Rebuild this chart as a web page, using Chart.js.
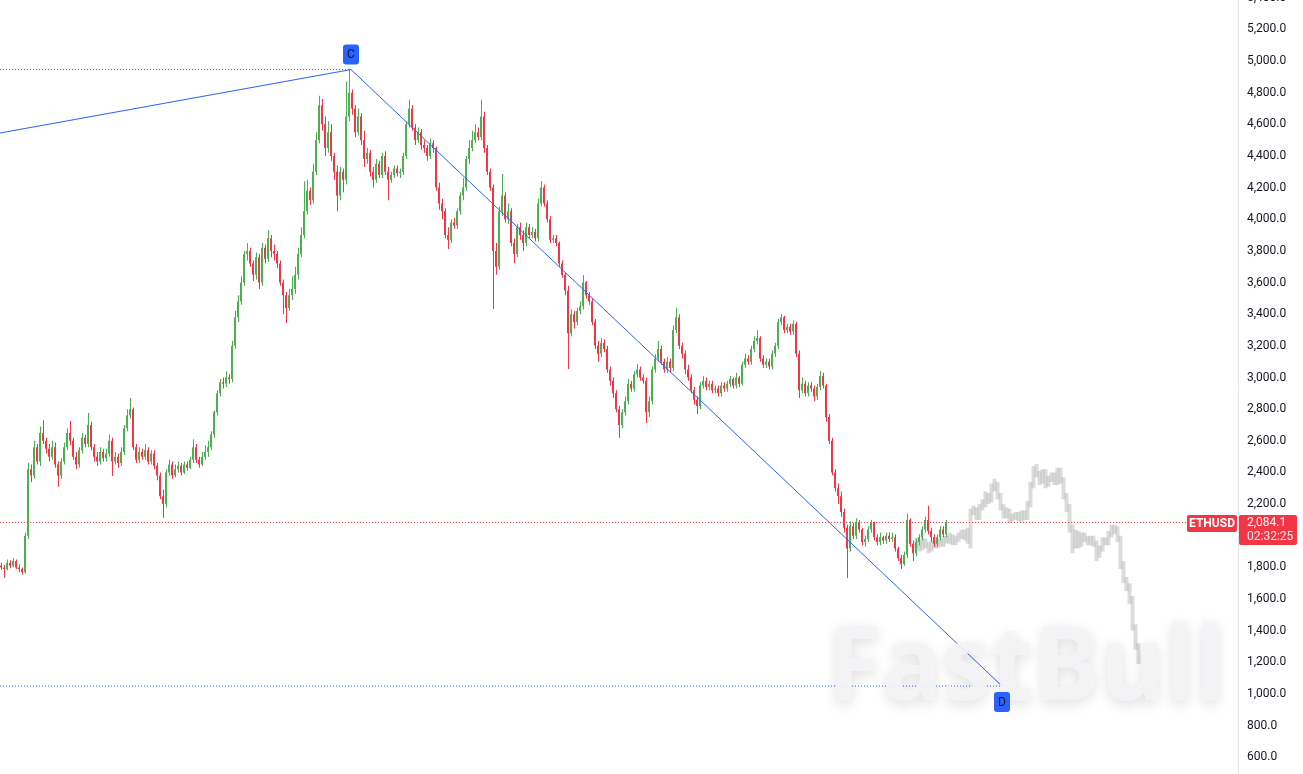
<!DOCTYPE html>
<html><head><meta charset="utf-8">
<script src="https://cdn.jsdelivr.net/npm/chart.js@4.4.1/dist/chart.umd.min.js"></script>
<style>html,body{margin:0;padding:0;background:#fff;overflow:hidden}#wrap{width:1303px;height:774px;position:relative}</style>
</head><body><div id="wrap"><canvas id="c"></canvas></div>
<script>
// ETHUSD candles (one per step)
const opens=[
1810,1800,1790,1830,1810,1840,1800,1790,
1770,2000,2420,2380,2560,2470,2650,2600,
2550,2500,2560,2450,2380,2470,2560,2650,
2600,2500,2450,2540,2620,2580,2700,2560,
2500,2470,2530,2490,2520,2600,2470,2500,
2460,2530,2680,2760,2800,2560,2480,2530,
2500,2540,2470,2520,2440,2380,2250,2200,
2400,2450,2380,2420,2440,2400,2450,2430,
2480,2560,2480,2450,2500,2530,2560,2640,
2780,2900,2970,2960,3000,2990,3200,3380,
3480,3600,3780,3800,3720,3650,3760,3600,
3820,3750,3880,3800,3780,3720,3600,3520,
3440,3520,3560,3650,3780,3900,4050,4180,
4120,4300,4500,4720,4600,4450,4550,4400,
4300,4150,4300,4250,4650,4800,4700,4550,
4650,4500,4380,4420,4300,4250,4350,4280,
4400,4300,4250,4280,4320,4290,4300,4400,
4600,4700,4580,4500,4550,4470,4450,4400,
4480,4450,4200,4100,4050,3900,3870,3980,
3960,4050,4150,4200,4380,4450,4500,4550,
4520,4650,4450,4300,4200,3800,3700,4050,
4150,4000,4050,3850,3780,3950,3900,3850,
3950,3900,3920,3880,4100,4200,4100,4000,
3870,3880,3850,3720,3650,3550,3280,3400,
3350,3420,3450,3600,3520,3480,3350,3200,
3150,3220,3180,3050,2980,2900,2800,2700,
2780,2850,2960,2930,3020,3050,3000,2980,
2780,2850,3050,3120,3180,3100,3050,3100,
3060,3300,3380,3200,3150,3050,3000,2920,
2860,2820,2950,2980,2940,2960,2920,2930,
2900,2950,2930,2960,2990,2950,3000,2960,
3080,3120,3100,3180,3230,3250,3120,3080,
3100,3070,3150,3200,3350,3380,3300,3320,
3290,3340,3150,2920,2960,2900,2950,2930,
2880,2940,3010,2950,2750,2600,2400,2300,
2250,2150,2050,1920,2060,2000,2080,2040,
1960,1980,2040,2080,1990,1960,1990,1970,
2000,1980,1990,1920,1860,1820,1880,2100,
1950,1890,1960,1990,2040,2100,2030,1990,
1950,1990,2040,2010];
const highs=[
1830,1815,1850,1845,1860,1850,1820,1800,
2020,2460,2450,2600,2580,2690,2730,2620,
2580,2600,2590,2470,2490,2590,2680,2725,
2620,2530,2560,2650,2640,2776,2720,2580,
2530,2560,2550,2550,2640,2620,2530,2520,
2560,2700,2800,2870,2810,2580,2560,2550,
2580,2560,2540,2540,2460,2400,2290,2420,
2480,2470,2450,2470,2460,2470,2470,2500,
2610,2580,2500,2530,2570,2600,2660,2790,
2920,2990,3000,3040,3020,3230,3420,3520,
3640,3800,3850,3820,3740,3790,3780,3850,
3840,3930,3900,3840,3800,3740,3620,3540,
3560,3640,3700,3820,3950,4240,4250,4200,
4350,4550,4780,4760,4650,4620,4600,4420,
4340,4330,4320,4870,4946,4820,4720,4700,
4670,4560,4450,4440,4330,4380,4370,4420,
4430,4330,4300,4340,4340,4320,4420,4620,
4755,4720,4600,4580,4570,4500,4470,4510,
4500,4460,4230,4130,4070,3950,4000,4010,
4070,4170,4260,4400,4500,4560,4600,4580,
4755,4680,4470,4320,4220,3850,4080,4286,
4170,4100,4070,3880,3970,3980,3930,3980,
3970,3950,3940,4130,4242,4220,4120,4020,
3900,3900,3860,3740,3660,3580,3430,3420,
3440,3480,3648,3610,3540,3500,3370,3230,
3250,3240,3200,3070,3000,2920,2820,2800,
2880,2990,2980,3040,3085,3070,3020,3000,
2880,3070,3150,3231,3200,3120,3130,3120,
3330,3440,3400,3220,3170,3080,3020,2940,
2880,2970,3010,3000,2980,2980,2950,2950,
2970,2970,2980,3010,3000,3030,3010,3100,
3150,3140,3200,3260,3300,3260,3140,3120,
3120,3170,3220,3370,3401,3390,3340,3340,
3360,3350,3170,3000,2980,2970,2970,2950,
2960,3040,3030,2960,2770,2620,2420,2330,
2280,2170,2070,2090,2080,2110,2100,2050,
2000,2060,2100,2090,2010,2020,2000,2020,
2020,2020,2010,1930,1880,1900,2140,2110,
1970,1980,2010,2060,2120,2190,2050,2010,
2010,2060,2060,2100];
const lows=[
1785,1735,1780,1795,1800,1790,1770,1755,
1760,1980,2340,2360,2450,2440,2580,2520,
2470,2480,2430,2310,2360,2450,2540,2570,
2480,2420,2430,2520,2560,2560,2540,2470,
2440,2450,2470,2470,2500,2378,2450,2430,
2440,2510,2660,2740,2540,2460,2460,2480,
2480,2450,2450,2420,2350,2230,2112,2180,
2380,2360,2370,2400,2380,2390,2410,2420,
2460,2460,2430,2440,2480,2500,2540,2620,
2760,2880,2930,2940,2960,2970,3180,3350,
3460,3580,3740,3700,3610,3620,3560,3580,
3720,3730,3760,3740,3690,3580,3400,3345,
3420,3490,3530,3620,3760,3880,4030,4090,
4100,4280,4480,4560,4400,4420,4370,4250,
4050,4120,4170,4220,4620,4660,4520,4530,
4470,4330,4350,4270,4200,4230,4260,4260,
4280,4120,4230,4260,4270,4260,4280,4380,
4580,4560,4470,4480,4440,4420,4370,4380,
4420,4180,4060,4000,3880,3812,3850,3940,
3940,4030,4120,4180,4350,4430,4480,4500,
4500,4420,4280,4180,3433,3650,3680,4020,
3980,3970,3830,3720,3760,3870,3800,3830,
3880,3880,3860,3860,4080,4080,3980,3850,
3850,3830,3700,3630,3520,3054,3260,3310,
3330,3400,3430,3500,3460,3330,3180,3100,
3130,3160,3030,2950,2870,2780,2617,2680,
2760,2830,2910,2910,3000,2980,2960,2713,
2750,2830,3030,3100,3080,3030,3030,3030,
3040,3280,3180,3120,3020,2980,2900,2830,
2770,2800,2930,2920,2920,2900,2900,2880,
2880,2910,2910,2940,2930,2930,2940,2950,
3060,3080,3080,3160,3210,3100,3060,3060,
3050,3050,3130,3180,3330,3280,3280,3270,
3270,3130,2870,2900,2880,2880,2910,2850,
2860,2920,2930,2720,2580,2380,2280,2200,
2120,2020,1733,1900,1980,1980,2020,1940,
1930,1960,2020,1970,1940,1940,1950,1950,
1960,1960,1900,1840,1790,1810,1860,1930,
1840,1870,1940,1970,2020,2010,1960,1930,
1930,1970,1990,1990];
const closes=[
1800,1790,1830,1810,1840,1800,1790,1770,
2000,2420,2380,2560,2470,2650,2600,2550,
2500,2560,2450,2380,2470,2560,2650,2600,
2500,2450,2540,2620,2580,2700,2560,2500,
2470,2530,2490,2520,2600,2470,2500,2460,
2530,2680,2760,2800,2560,2480,2530,2500,
2540,2470,2520,2440,2380,2250,2200,2400,
2450,2380,2420,2440,2400,2450,2430,2480,
2560,2480,2450,2500,2530,2560,2640,2780,
2900,2970,2960,3000,2990,3200,3380,3480,
3600,3780,3800,3720,3650,3760,3600,3820,
3750,3880,3800,3780,3720,3600,3520,3440,
3520,3560,3650,3780,3900,4050,4180,4120,
4300,4500,4720,4600,4450,4550,4400,4300,
4150,4300,4250,4650,4800,4700,4550,4650,
4500,4380,4420,4300,4250,4350,4280,4400,
4300,4250,4280,4320,4290,4300,4400,4600,
4700,4580,4500,4550,4470,4450,4400,4480,
4450,4200,4100,4050,3900,3870,3980,3960,
4050,4150,4200,4380,4450,4500,4550,4520,
4650,4450,4300,4200,3800,3700,4050,4150,
4000,4050,3850,3780,3950,3900,3850,3950,
3900,3920,3880,4100,4200,4100,4000,3870,
3880,3850,3720,3650,3550,3280,3400,3350,
3420,3450,3600,3520,3480,3350,3200,3150,
3220,3180,3050,2980,2900,2800,2700,2780,
2850,2960,2930,3020,3050,3000,2980,2780,
2850,3050,3120,3180,3100,3050,3100,3060,
3300,3380,3200,3150,3050,3000,2920,2860,
2820,2950,2980,2940,2960,2920,2930,2900,
2950,2930,2960,2990,2950,3000,2960,3080,
3120,3100,3180,3230,3250,3120,3080,3100,
3070,3150,3200,3350,3380,3300,3320,3290,
3340,3150,2920,2960,2900,2950,2930,2880,
2940,3010,2950,2750,2600,2400,2300,2250,
2150,2050,1920,2060,2000,2080,2040,1960,
1980,2040,2080,1990,1960,1990,1970,2000,
1980,1990,1920,1860,1820,1880,2100,1950,
1890,1960,1990,2040,2100,2030,1990,1950,
1990,2040,2010,2084.1];

// grey projected path (ghost bars), starting at step ghostStart
const ghostStart=305;
const ghostLows=[
1920,1900,1910,1920,1890,1900,1920,1920,1930,1930,
1950,1950,1940,1940,1960,1980,1970,1950,1920,2130,
2100,2100,2160,2180,2200,2210,2280,2230,2160,2110,
2110,2080,2090,2100,2090,2090,2100,2100,2180,2300,
2370,2320,2330,2300,2310,2340,2320,2320,2330,2230,
2150,2020,1890,1920,1920,1930,1960,1940,1940,1930,
1840,1860,1900,1940,1940,1990,2010,1960,1790,1700,
1650,1570,1400,1280,1190];
const ghostHighs=[
1990,1970,1990,1980,1960,1970,1970,1990,1980,2000,
2000,2020,2010,2000,2020,2040,2040,2050,2170,2190,
2180,2200,2230,2280,2270,2330,2360,2340,2270,2200,
2180,2170,2140,2150,2150,2160,2160,2220,2340,2440,
2453,2410,2420,2420,2380,2400,2400,2430,2430,2370,
2270,2200,2070,2040,2030,2020,2020,2000,2000,2000,
1970,1940,1990,1990,2030,2070,2070,2060,2000,1840,
1740,1700,1620,1440,1320];

// wave drawing: anchor steps and prices
const waveSteps=[-0.3333,116.667,333.667];
const wavePrices=[4545,4946,1050];
const waveLabels=['C','D'];
const currentPrice=2084.1;
const symbol='ETHUSD';
const countdown='02:32:25';

const UP='#4caf50', DOWN='#f23645', BLUE='#2962ff';
const isUp=closes.map((c,i)=>c>=opens[i]);
const fmt=v=>Number(v).toLocaleString('en-US',{minimumFractionDigits:1,maximumFractionDigits:1});
const X_MIN=-1/3, X_MAX=-1/3+1238/3;

function rrect(ctx,x,y,w,h,r){ctx.beginPath();ctx.moveTo(x+r,y);ctx.lineTo(x+w-r,y);ctx.quadraticCurveTo(x+w,y,x+w,y+r);ctx.lineTo(x+w,y+h-r);ctx.quadraticCurveTo(x+w,y+h,x+w-r,y+h);ctx.lineTo(x+r,y+h);ctx.quadraticCurveTo(x,y+h,x,y+h-r);ctx.lineTo(x,y+r);ctx.quadraticCurveTo(x,y,x+r,y);ctx.closePath();}

const overlay={id:'overlay',
 afterDatasetsDraw(chart){
  const {ctx,scales:{x,y}}=chart;
  // watermark
  ctx.save();
  ctx.font='bold 104px "Open Sans"';
  const tw=ctx.measureText('FastBull').width;
  ctx.translate(828,700); ctx.scale(397/tw,1);
  ctx.shadowColor='rgba(0,0,0,0.16)'; ctx.shadowBlur=14; ctx.shadowOffsetY=4;
  ctx.fillStyle='rgba(242,242,244,0.8)';
  ctx.textBaseline='alphabetic';
  ctx.fillText('FastBull',0,0);
  ctx.shadowColor='transparent';
  ctx.fillStyle='rgba(246,246,248,0.55)';
  ctx.fillText('FastBull',0,0);
  ctx.restore();
  // wave labels
  ctx.save();
  ctx.font='12px Roboto'; ctx.textAlign='center'; ctx.textBaseline='middle';
  waveLabels.forEach((t,k)=>{
    const px=Math.round(x.getPixelForValue(waveSteps[k+1]));
    const py=y.getPixelForValue(wavePrices[k+1])+(k===0?-15:16);
    ctx.fillStyle=BLUE; rrect(ctx,px-8,py-10,16,20,3); ctx.fill();
    ctx.fillStyle='#131722'; ctx.fillText(t,px,py+0.5);
  });
  ctx.restore();
 },
 afterDraw(chart){
  const {ctx,scales:{y}}=chart;
  ctx.save();
  // partially visible top tick
  ctx.font='12px Roboto'; ctx.fillStyle='#131722'; ctx.textBaseline='middle'; ctx.textAlign='left';
  ctx.fillText(fmt(5400),1247,y.getPixelForValue(5400));
  const py=Math.round(y.getPixelForValue(currentPrice));
  ctx.fillStyle=DOWN;
  rrect(ctx,1187,py-7,50,17,2); ctx.fill();
  rrect(ctx,1239,py-7,58,30,2); ctx.fill();
  ctx.fillStyle='#fff'; ctx.textAlign='center'; ctx.font='bold 12px Roboto';
  ctx.fillText(symbol,1212,py+1.5);
  ctx.textAlign='left'; ctx.font='12px Roboto';
  ctx.fillText(fmt(currentPrice),1247,py+1);
  ctx.fillStyle='rgba(255,255,255,0.88)';
  ctx.fillText(countdown,1247,py+15);
  ctx.restore();
 }};

const idx=closes.map((_,i)=>i);
new Chart(document.getElementById('c'),{
 type:'bar',
 data:{datasets:[
  {type:'bar',data:ghostLows.map((l,k)=>({x:ghostStart+k+1/6,y:[l,ghostHighs[k]]})),backgroundColor:'rgba(150,150,150,0.34)',barThickness:4,grouped:false,inflateAmount:0,order:6},
  {type:'bar',data:idx.map(i=>({x:i+1/6,y:[lows[i],highs[i]]})),backgroundColor:isUp.map(u=>u?UP:DOWN),barThickness:1,grouped:false,inflateAmount:0,order:4},
  {type:'bar',data:idx.map(i=>({x:i,y:[opens[i],closes[i]]})),backgroundColor:isUp.map(u=>u?UP:DOWN),barThickness:2,grouped:false,inflateAmount:0,order:3},
  {type:'line',data:[{x:X_MIN,y:currentPrice},{x:X_MAX,y:currentPrice}],borderColor:DOWN,borderWidth:1,borderDash:[1,2],pointRadius:0,order:2},
  {type:'line',data:[{x:X_MIN,y:wavePrices[1]},{x:waveSteps[1],y:wavePrices[1]}],borderColor:BLUE,borderWidth:1,borderDash:[1,2],pointRadius:0,order:1},
  {type:'line',data:[{x:X_MIN,y:wavePrices[2]},{x:waveSteps[2],y:wavePrices[2]}],borderColor:BLUE,borderWidth:1,borderDash:[1,2],pointRadius:0,order:1},
  {type:'line',data:waveSteps.map((s,k)=>({x:s,y:wavePrices[k]})),borderColor:BLUE,borderWidth:1,pointRadius:0,tension:0,order:0}
 ]},
 options:{
  responsive:true,maintainAspectRatio:false,animation:false,
  layout:{padding:0},
  plugins:{legend:{display:false},tooltip:{enabled:false}},
  scales:{
   x:{type:'linear',min:X_MIN,max:X_MAX,display:false,offset:false},
   y:{position:'right',min:494.5,max:5385.5,
      grid:{display:false,drawTicks:false},
      border:{display:true,color:'#e0e3eb'},
      ticks:{stepSize:200,includeBounds:false,padding:9,color:'#131722',font:{family:'Roboto',size:12},callback:v=>fmt(v)},
      afterFit(s){s.width=65;s.paddingTop=0;s.paddingBottom=0;}}
  }
 },
 plugins:[overlay]
});
</script></body></html>
